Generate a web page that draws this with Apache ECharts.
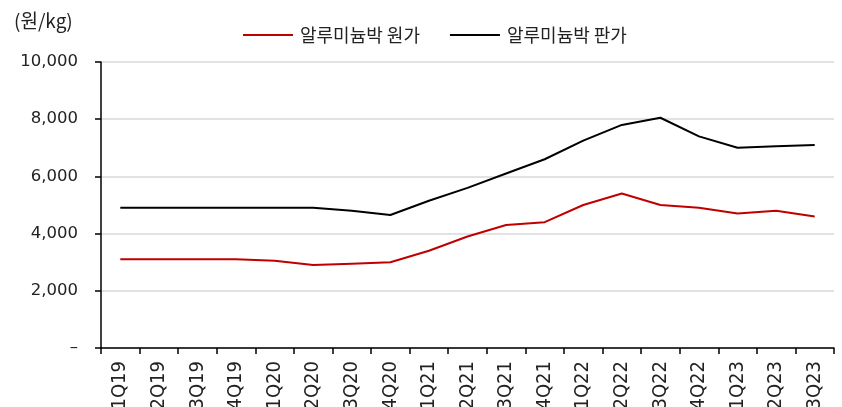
<!DOCTYPE html>
<html><head><meta charset="utf-8">
<script src="https://cdn.jsdelivr.net/npm/echarts@6/dist/echarts.min.js"></script>
<style>html,body{margin:0;padding:0;background:#fff}#c{width:842px;height:407px}</style>
</head><body><div id="c"></div>
<script>
const categories = ['1Q19','2Q19','3Q19','4Q19','1Q20','2Q20','3Q20','4Q20','1Q21','2Q21','3Q21','4Q21','1Q22','2Q22','3Q22','4Q22','1Q23','2Q23','3Q23'];
const costValues = [3100,3100,3100,3100,3050,2900,2950,3000,3400,3900,4300,4400,5000,5400,5000,4900,4700,4800,4600];
const priceValues = [4900,4900,4900,4900,4900,4900,4800,4650,5150,5600,6100,6600,7250,7800,8050,7400,7000,7050,7100];
const seriesNames = ['알루미늄박 원가','알루미늄박 판가'];
const unitLabel = '(원/kg)';
const FONT = '"Noto Sans CJK KR", "Noto Sans", sans-serif';
const NUMFONT = '"DejaVu Sans", "Noto Sans", sans-serif';
const NARROW = '"Liberation Sans Narrow", "DejaVu Sans Condensed", "Noto Sans", sans-serif';
const chart = echarts.init(document.getElementById('c'));
chart.setOption({
  animation:false,
  textStyle:{fontFamily:FONT},
  title:{text:unitLabel,left:9,top:6,textStyle:{fontFamily:FONT,fontSize:19,fontWeight:'normal',color:'#222'}},
  legend:{top:21,left:238,itemWidth:50,itemHeight:2,itemGap:30,icon:'rect',
    textStyle:{fontFamily:FONT,fontSize:18,color:'#222',padding:[0,0,0,2]},data:seriesNames},
  grid:{left:101,right:8,top:62,bottom:59,containLabel:false,outerBoundsMode:'none'},
  xAxis:{type:'category',data:categories,boundaryGap:true,
    axisLine:{lineStyle:{color:'#000',width:1.5}},
    axisTick:{show:true,length:6,alignWithLabel:false,lineStyle:{color:'#000',width:1.5}},
    axisLabel:{rotate:90,fontSize:20,color:'#222',margin:13,fontFamily:NARROW}},
  yAxis:{type:'value',min:0,max:10000,interval:2000,
    axisLine:{show:true,lineStyle:{color:'#000',width:1.5}},
    axisTick:{show:true,length:6,lineStyle:{color:'#000',width:1.5}},
    splitLine:{lineStyle:{color:'#d9d9d9',width:1.5}},
    axisLabel:{fontSize:16.5,color:'#222',margin:23,fontFamily:NUMFONT,
      formatter:v=>v===0?'–':v.toLocaleString('en-US')}},
  series:[
    {name:seriesNames[0],type:'line',data:costValues,symbol:'none',lineStyle:{color:'#c00000',width:2},itemStyle:{color:'#c00000'}},
    {name:seriesNames[1],type:'line',data:priceValues,symbol:'none',lineStyle:{color:'#000',width:2},itemStyle:{color:'#000'}}
  ]
});
</script></body></html>
